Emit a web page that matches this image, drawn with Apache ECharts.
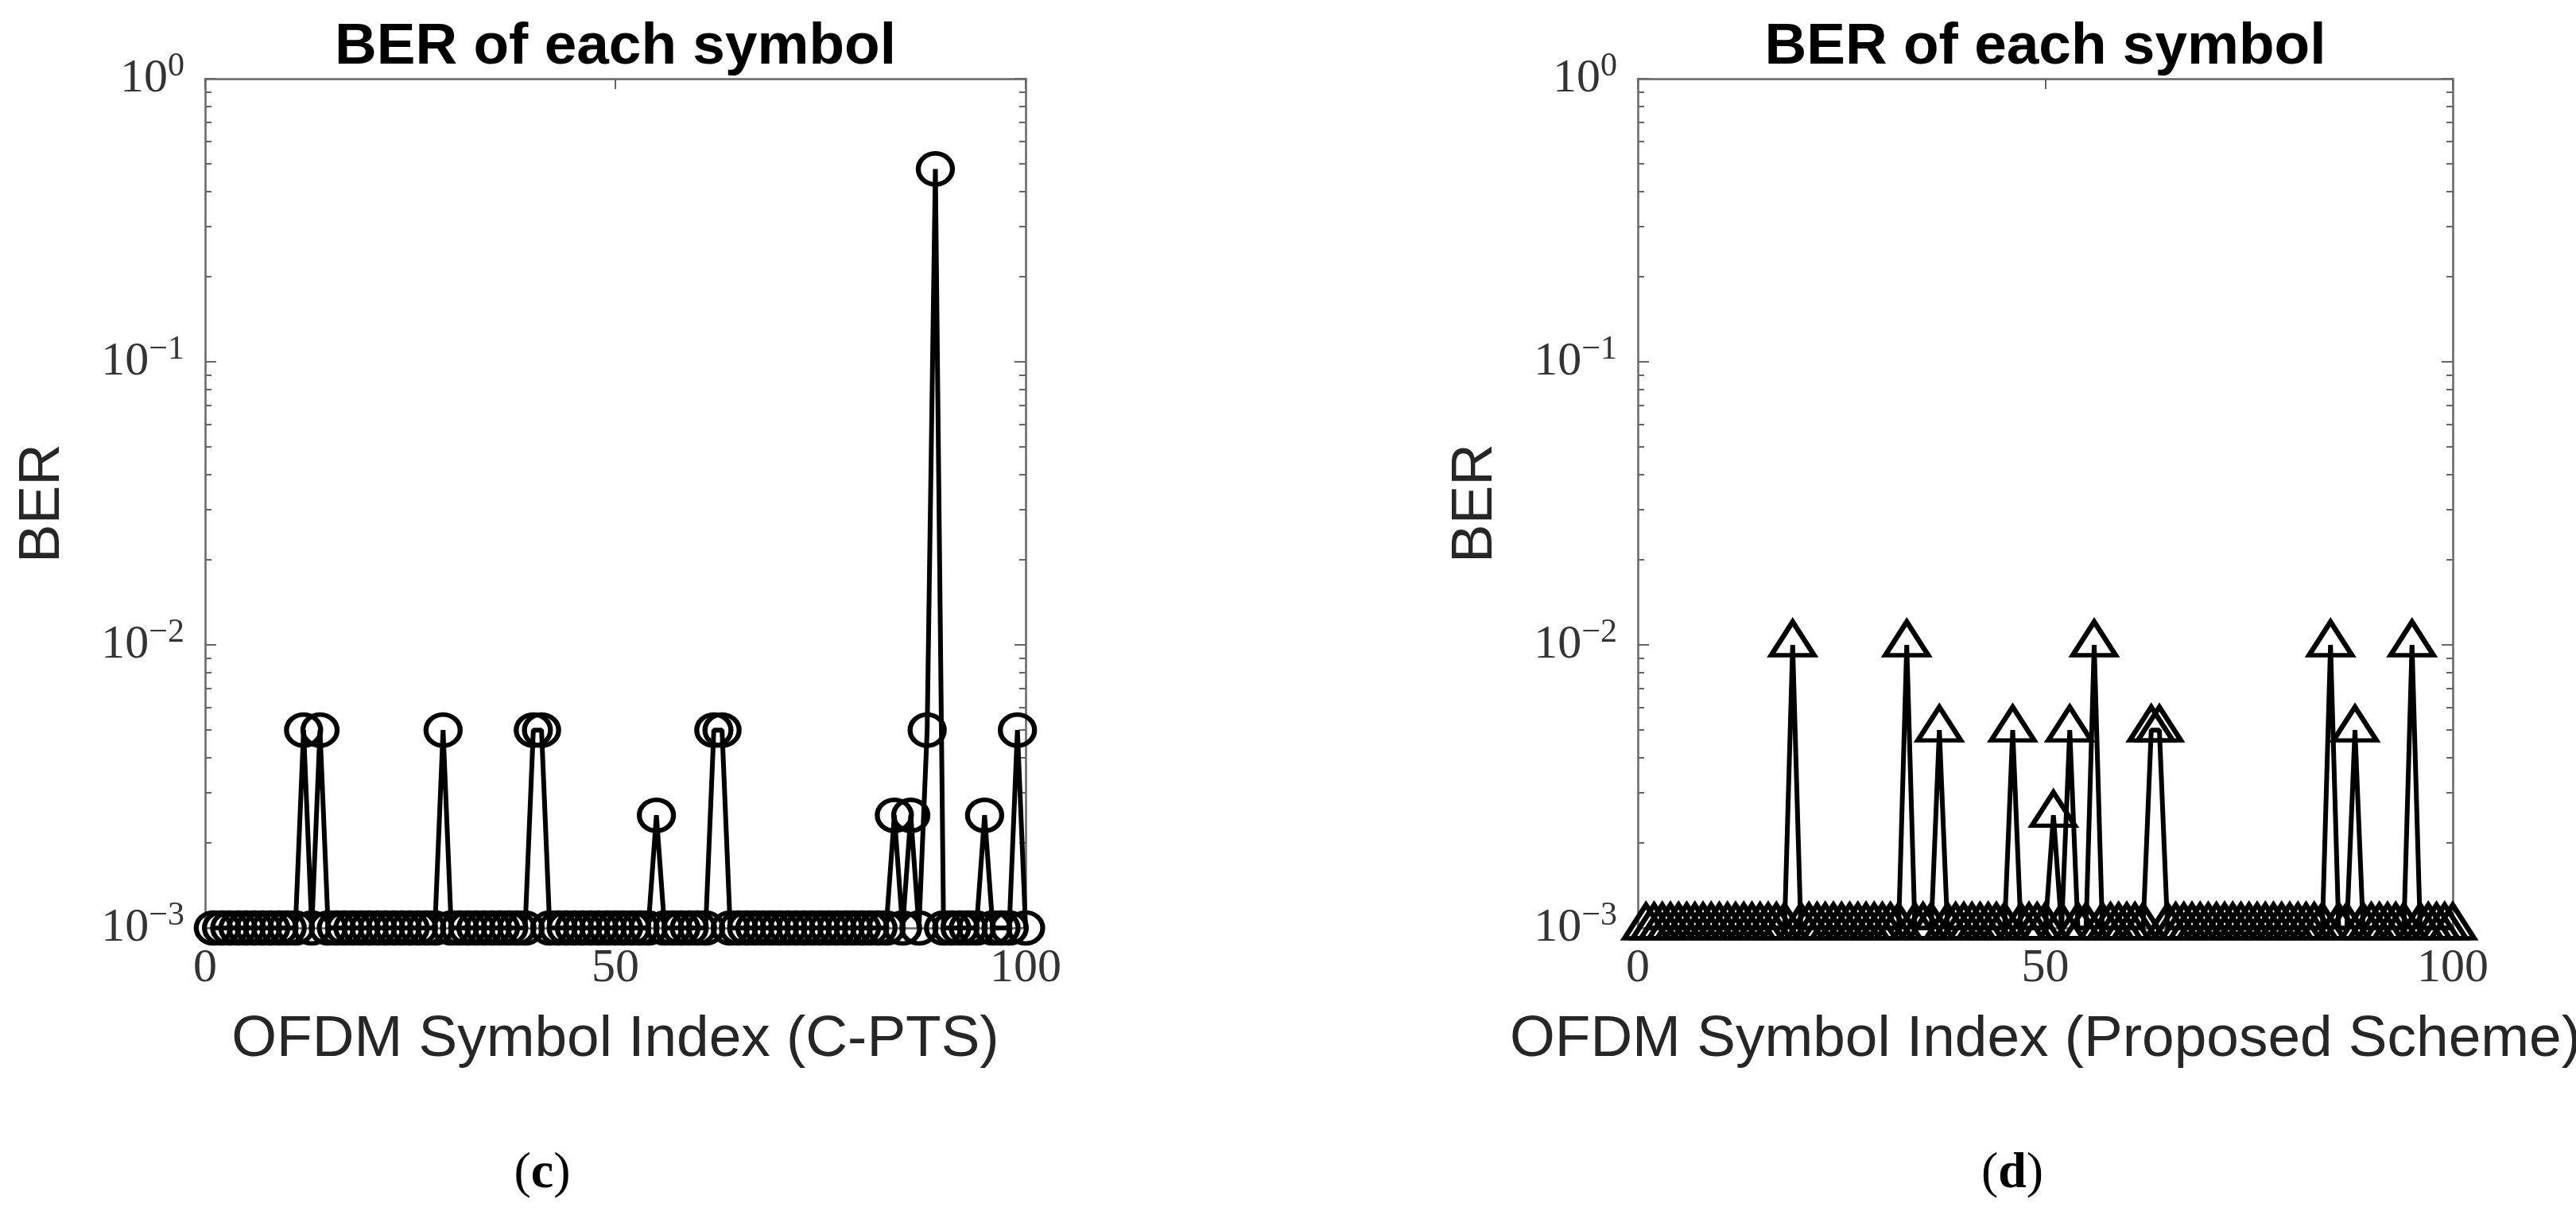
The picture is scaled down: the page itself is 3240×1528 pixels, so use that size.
<!DOCTYPE html>
<html><head><meta charset="utf-8">
<script src="https://cdn.jsdelivr.net/npm/echarts@6/dist/echarts.min.js"></script>
<style>html,body{margin:0;padding:0;background:#fff}#c{width:3240px;height:1528px}</style>
</head><body><div id="c"></div>
<script>
// ---- data ----
const symbolIndex = Array.from({length: 100}, (_, i) => i + 1);
const xTickValues = [0, 50, 100];
const yTickExponents = [-3, -2, -1, 0];
const titleText = 'BER of each symbol';
const xNames = ['OFDM Symbol Index (C-PTS)', 'OFDM Symbol Index (Proposed Scheme)'];
const yName = 'BER';
const panelLabels = ['c', 'd'];

const berCPTS = [
  0.001, 0.001, 0.001, 0.001, 0.001, 0.001, 0.001, 0.001, 0.001, 0.001,
  0.001, 0.005, 0.001, 0.005, 0.001, 0.001, 0.001, 0.001, 0.001, 0.001,
  0.001, 0.001, 0.001, 0.001, 0.001, 0.001, 0.001, 0.001, 0.005, 0.001,
  0.001, 0.001, 0.001, 0.001, 0.001, 0.001, 0.001, 0.001, 0.001, 0.005,
  0.005, 0.001, 0.001, 0.001, 0.001, 0.001, 0.001, 0.001, 0.001, 0.001,
  0.001, 0.001, 0.001, 0.001, 0.0025, 0.001, 0.001, 0.001, 0.001, 0.001,
  0.001, 0.005, 0.005, 0.001, 0.001, 0.001, 0.001, 0.001, 0.001, 0.001,
  0.001, 0.001, 0.001, 0.001, 0.001, 0.001, 0.001, 0.001, 0.001, 0.001,
  0.001, 0.001, 0.001, 0.0025, 0.001, 0.0025, 0.001, 0.005, 0.48, 0.001,
  0.001, 0.001, 0.001, 0.001, 0.0025, 0.001, 0.001, 0.001, 0.005, 0.001
];
const berProposed = [
  0.001, 0.001, 0.001, 0.001, 0.001, 0.001, 0.001, 0.001, 0.001, 0.001,
  0.001, 0.001, 0.001, 0.001, 0.001, 0.001, 0.001, 0.001, 0.01, 0.001,
  0.001, 0.001, 0.001, 0.001, 0.001, 0.001, 0.001, 0.001, 0.001, 0.001,
  0.001, 0.001, 0.01, 0.001, 0.001, 0.001, 0.005, 0.001, 0.001, 0.001,
  0.001, 0.001, 0.001, 0.001, 0.001, 0.005, 0.001, 0.001, 0.001, 0.001,
  0.0025, 0.001, 0.005, 0.001, 0.001, 0.01, 0.001, 0.001, 0.001, 0.001,
  0.001, 0.001, 0.005, 0.005, 0.001, 0.001, 0.001, 0.001, 0.001, 0.001,
  0.001, 0.001, 0.001, 0.001, 0.001, 0.001, 0.001, 0.001, 0.001, 0.001,
  0.001, 0.001, 0.001, 0.001, 0.01, 0.001, 0.001, 0.005, 0.001, 0.001,
  0.001, 0.001, 0.001, 0.001, 0.01, 0.001, 0.001, 0.001, 0.001, 0.001
];

// ---- styling ----
const AX = '#666';
const TICK_FONT = 'Liberation Serif';
const NAME_FONT = 'Liberation Sans';
const minorTicks = [];
for (let k = yTickExponents[0]; k < yTickExponents[yTickExponents.length - 1]; k++) {
  for (let m = 2; m <= 9; m++) minorTicks.push(k + Math.log10(m));
}
function yLabel(v) {
  const e = Math.round(Math.log10(v));
  return '{b|10}{s|' + (e === 0 ? '0' : '\u2212' + (-e)) + '}';
}
const axisLine = {onZero: false, lineStyle: {color: AX, width: 2.5}};

const grids = [
  {left: 258, top: 99, width: 1032, height: 1068, outerBoundsMode: 'none', containLabel: false},
  {left: 2060, top: 99, width: 1025, height: 1068, outerBoundsMode: 'none', containLabel: false}
];
const xAxes = [], yAxes = [];
grids.forEach((g, gi) => {
  xAxes.push({
    gridIndex: gi, type: 'value', position: 'bottom',
    min: xTickValues[0], max: xTickValues[xTickValues.length - 1], interval: xTickValues[1] - xTickValues[0],
    axisLine, axisTick: {inside: true, length: 13, lineStyle: {color: AX, width: 2}},
    axisLabel: {margin: 21, fontFamily: TICK_FONT, fontSize: 60, lineHeight: 60, color: '#333'},
    splitLine: {show: false},
    name: xNames[gi], nameLocation: 'middle', nameGap: 104, nameMoveOverlap: false,
    nameTextStyle: {fontFamily: NAME_FONT, fontSize: 73, lineHeight: 73, color: '#262626'}
  });
  xAxes.push({
    gridIndex: gi, type: 'value', position: 'top',
    min: xTickValues[0], max: xTickValues[xTickValues.length - 1], interval: xTickValues[1] - xTickValues[0],
    axisLine, axisTick: {inside: true, length: 13, lineStyle: {color: AX, width: 2}},
    axisLabel: {show: false}, splitLine: {show: false},
    name: titleText, nameLocation: 'middle', nameGap: 3, nameMoveOverlap: false,
    nameTextStyle: {fontFamily: NAME_FONT, fontWeight: 'bold', fontSize: 73, lineHeight: 73, color: '#000'}
  });
  const logCommon = {
    gridIndex: gi, type: 'log', logBase: 10,
    min: Math.pow(10, yTickExponents[0]), max: Math.pow(10, yTickExponents[yTickExponents.length - 1]),
    axisLine, axisTick: {inside: true, length: 14, lineStyle: {color: AX, width: 2}},
    splitLine: {show: false}
  };
  yAxes.push(Object.assign({}, logCommon, {
    position: 'left',
    axisLabel: {
      margin: 26, formatter: yLabel,
      rich: {
        b: {fontFamily: TICK_FONT, fontSize: 60, lineHeight: 72, color: '#333'},
        s: {fontFamily: TICK_FONT, fontSize: 42, lineHeight: 42, verticalAlign: 'top', color: '#333'}
      }
    },
    name: yName, nameLocation: 'middle', nameRotate: 90, nameGap: 168, nameMoveOverlap: false,
    nameTextStyle: {fontFamily: NAME_FONT, fontSize: 73, lineHeight: 73, color: '#262626'}
  }));
  yAxes.push(Object.assign({}, logCommon, {position: 'right', axisLabel: {show: false}}));
  ['left', 'right'].forEach(pos => {
    yAxes.push({
      gridIndex: gi, type: 'value', position: pos,
      min: yTickExponents[0], max: yTickExponents[yTickExponents.length - 1],
      axisLine: {show: false, onZero: false},
      axisTick: {inside: true, length: 8, customValues: minorTicks, lineStyle: {color: AX, width: 2}},
      axisLabel: {show: false}, splitLine: {show: false}
    });
  });
});

function mkSeries(gi, values, marker) {
  const s = {
    type: 'line', xAxisIndex: gi * 2, yAxisIndex: gi * 4,
    data: symbolIndex.map((x, i) => [x, values[i]]),
    showAllSymbol: true, clip: false, silent: true,
    lineStyle: {color: '#000', width: 6},
    itemStyle: {color: 'rgba(0,0,0,0)', borderColor: '#000', borderWidth: 6},
    emphasis: {disabled: true}, z: 5
  };
  if (marker === 'circle') { s.symbol = 'circle'; s.symbolSize = [43, 39]; }
  else { s.symbol = 'triangle'; s.symbolSize = [54, 42]; s.symbolOffset = [0, -8]; }
  return s;
}

const panelPos = [[682, 1476], [2531, 1476]];
const graphic = panelLabels.map((t, i) => ({
  type: 'text', x: panelPos[i][0], y: panelPos[i][1],
  style: {
    text: '{p|(}{c|' + t + '}{p|)}', align: 'center', verticalAlign: 'middle',
    rich: {
      p: {fontFamily: TICK_FONT, fontSize: 64, fill: '#000'},
      c: {fontFamily: TICK_FONT, fontSize: 64, fontWeight: 'bold', fill: '#000'}
    }
  }
}));

const chart = echarts.init(document.getElementById('c'), null, {renderer: 'canvas'});
chart.setOption({
  animation: false,
  backgroundColor: '#fff',
  grid: grids,
  xAxis: xAxes,
  yAxis: yAxes,
  series: [mkSeries(0, berCPTS, 'circle'), mkSeries(1, berProposed, 'triangle')],
  graphic
});
</script></body></html>
